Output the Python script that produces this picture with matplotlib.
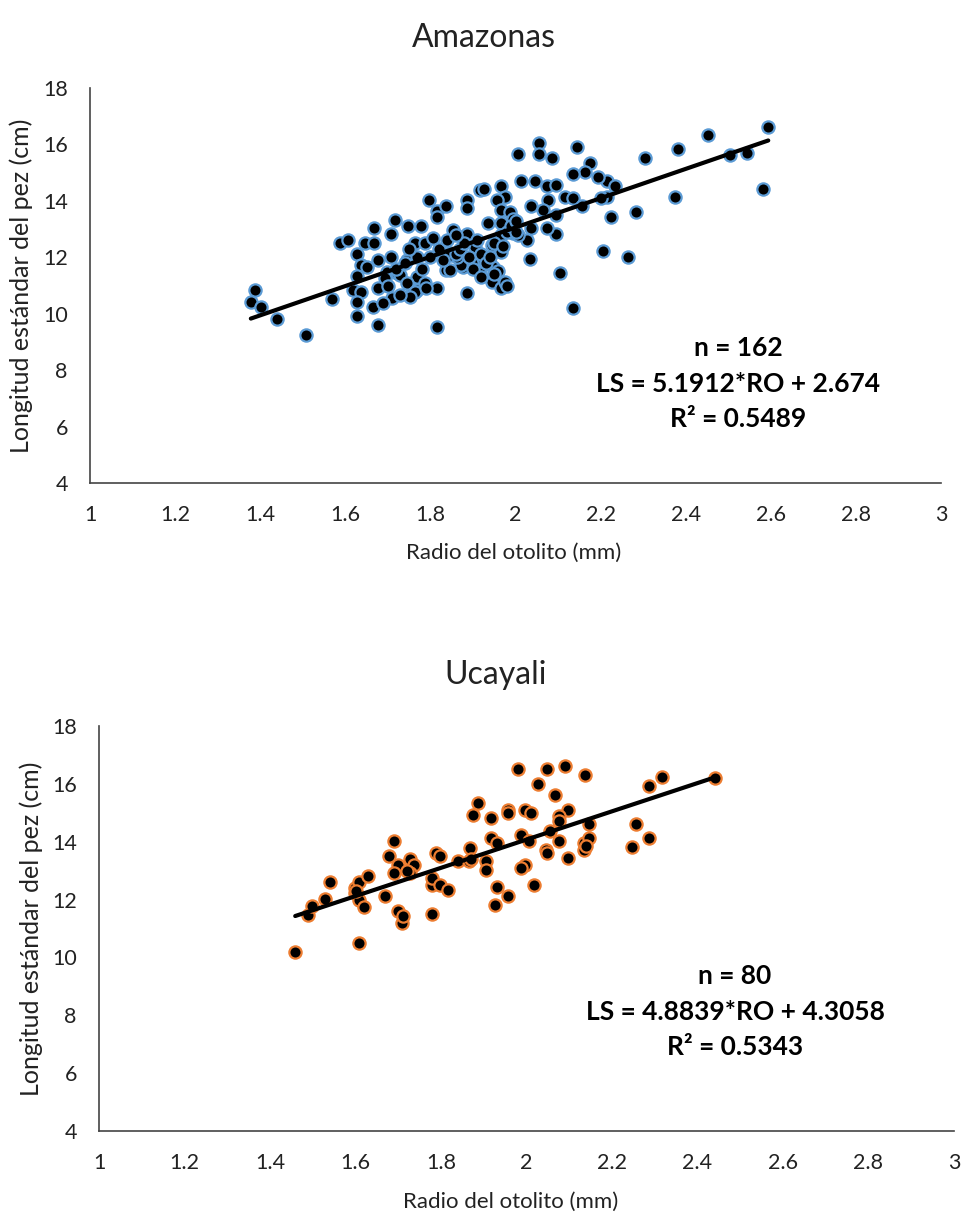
import matplotlib
matplotlib.use('Agg')
import matplotlib.pyplot as plt
import numpy as np

plt.rcParams['font.family'] = ['Lato', 'DejaVu Sans']

# Amazonas: radio del otolito (mm) vs longitud estandar (cm)
amz_x = [1.388, 1.378, 1.401, 1.439, 1.508, 1.568, 1.588, 1.607, 1.627, 1.646,
         1.667, 1.667, 1.638, 1.650, 1.627, 1.619, 1.638, 1.627, 1.627, 1.678,
         1.707, 1.717, 1.748, 1.777, 1.797, 1.816, 1.816, 1.837, 1.707, 1.678,
         1.666, 1.678, 1.697, 1.721, 1.709, 1.689, 1.744, 1.764, 1.787, 1.807,
         1.768, 1.756, 1.768, 1.787, 1.816, 1.816, 1.837, 1.854, 1.885, 1.885,
         1.885, 1.887, 1.895, 1.877, 1.905, 1.917,
         2.594, 2.453, 2.383, 2.304, 2.504, 2.543, 2.582, 2.375, 2.283, 2.224,
         2.214, 2.214, 2.234, 2.195, 2.175, 2.163, 2.202, 2.144, 2.134, 2.116,
         2.136, 2.156, 2.206, 2.265, 2.105, 2.134, 2.055, 2.055, 2.085, 2.005,
         2.014, 2.046, 2.075, 2.095, 2.076, 2.036, 2.065, 2.095, 2.095, 2.075,
         2.036, 2.034, 1.926, 1.965, 1.975, 1.956, 1.965, 1.987, 1.995, 1.936,
         1.965, 1.995, 1.965, 1.944, 1.965, 1.924, 1.948, 1.917, 1.944, 1.965,
         1.975, 2.026, 2.006,
         1.897, 1.873, 1.846, 1.862, 1.846, 1.768, 1.693, 1.729, 1.744, 1.764,
         1.752, 1.729, 1.846,
         1.86, 1.87, 1.88, 1.89, 1.90, 1.91, 1.92, 1.93, 1.94, 1.95,
         1.96, 1.97, 1.98, 1.99, 2.00, 2.00, 1.98, 1.95, 1.92, 1.72,
         1.74, 1.70, 1.75, 1.78, 1.80, 1.82, 1.84, 1.86, 1.83, 1.79]
amz_y = [10.84, 10.43, 10.23, 9.81, 9.25, 10.52, 12.52, 12.61, 12.12, 12.50,
         12.50, 13.03, 11.73, 11.67, 11.35, 10.84, 10.78, 10.43, 9.93, 11.90,
         12.83, 13.32, 13.12, 13.12, 14.03, 13.65, 13.42, 13.83, 12.02, 10.90,
         10.25, 9.60, 11.49, 11.43, 10.55, 10.37, 11.90, 12.50, 12.50, 12.67,
         11.31, 10.72, 10.84, 11.08, 10.90, 9.54, 11.55, 12.97, 14.03, 13.74,
         10.72, 12.83, 11.85, 11.67, 12.38, 14.39,
         16.63, 16.34, 15.83, 15.53, 15.63, 15.71, 14.42, 14.13, 13.62, 13.44,
         14.13, 14.72, 14.51, 14.86, 15.33, 15.04, 14.09, 15.92, 14.94, 14.13,
         14.09, 13.82, 12.23, 12.02, 11.43, 10.21, 16.04, 15.65, 15.53, 15.65,
         14.72, 14.72, 14.53, 14.56, 14.03, 13.82, 13.68, 13.50, 12.83, 13.03,
         13.03, 11.93, 14.41, 14.53, 14.13, 14.03, 13.68, 13.62, 13.35, 13.21,
         13.21, 12.85, 12.79, 12.44, 12.20, 11.90, 11.67, 11.43, 11.14, 10.90,
         11.14, 12.61, 12.79,
         11.79, 11.73, 12.14, 12.02, 11.55, 12.00, 11.26, 11.37, 11.08, 10.78,
         10.60, 10.66, 12.08,
         12.10, 12.30, 12.50, 12.00, 11.60, 12.60, 12.10, 11.80, 12.00, 12.50,
         11.50, 12.40, 12.90, 13.10, 12.90, 13.30, 11.00, 11.40, 11.30, 11.60,
         11.80, 11.00, 12.30, 11.60, 12.00, 12.30, 12.60, 12.80, 11.90, 10.90]

# Ucayali
ucy_x = [1.459, 1.490, 1.499, 1.529, 1.540, 1.598, 1.608, 1.598, 1.608, 1.619,
         1.629, 1.608, 1.668, 1.678, 1.689, 1.699, 1.689, 1.699, 1.709, 1.710,
         1.728, 1.738, 1.728, 1.778, 1.778, 1.798, 1.778, 1.788, 1.798, 1.817,
         1.839, 1.865, 1.868, 1.875, 1.887,
         1.918, 1.957, 1.918, 1.930, 1.906, 1.906, 1.930, 1.927, 1.957,
         1.979, 2.049, 2.089, 2.137, 2.027, 2.067, 1.957, 1.997, 2.010, 2.098,
         2.077, 2.077, 2.147, 2.287, 2.316, 2.257, 2.287, 2.246, 1.988, 2.007,
         2.056, 2.077, 2.046, 2.048, 2.098, 2.135, 2.135, 2.147, 1.997, 1.988,
         2.017, 2.441,
         1.600, 1.870, 2.140, 1.720]
ucy_y = [10.20, 11.47, 11.79, 12.02, 12.61, 12.40, 12.61, 12.22, 11.99, 11.73,
         12.80, 10.49, 12.11, 13.49, 14.01, 13.20, 12.92, 11.62, 11.19, 11.42,
         13.40, 13.20, 12.92, 12.51, 12.74, 12.51, 11.51, 13.61, 13.49, 12.32,
         13.32, 13.32, 13.78, 14.93, 15.34,
         14.82, 15.11, 14.13, 13.96, 13.32, 13.01, 12.45, 11.82, 12.11,
         16.52, 16.52, 16.63, 16.32, 16.01, 15.60, 15.00, 15.11, 14.99, 15.11,
         14.90, 14.70, 14.62, 15.91, 16.24, 14.62, 14.13, 13.82, 14.24, 14.01,
         14.36, 14.01, 13.73, 13.61, 13.44, 13.96, 13.73, 14.13, 13.20, 13.09,
         12.51, 16.21,
         12.30, 13.40, 13.85, 13.00]

amz_fit = (5.1912, 2.674)
ucy_fit = (4.8839, 4.3058)

x_ticks = [1, 1.2, 1.4, 1.6, 1.8, 2, 2.2, 2.4, 2.6, 2.8, 3]
x_ticklabels = ['1', '1.2', '1.4', '1.6', '1.8', '2', '2.2', '2.4', '2.6', '2.8', '3']
y_ticks = [4, 6, 8, 10, 12, 14, 16, 18]

W, H = 961, 1213
fig = plt.figure(figsize=(W / 100, H / 100), dpi=100)


def px_box(left, top, right, bottom):
    return [left / W, 1 - bottom / H, (right - left) / W, (bottom - top) / H]


def panel(box, xs, ys, edge, fit, title, title_xy, ann, ann_xy, ylab_x, xlab_xy):
    ax = fig.add_axes(box)
    ax.scatter(xs, ys, s=78, facecolor='black', edgecolor=edge, linewidth=1.6, zorder=3)
    xx = np.array([min(xs), max(xs)])
    ax.plot(xx, fit[0] * xx + fit[1], color='black', lw=3, solid_capstyle='round', zorder=4)
    ax.set_xlim(1, 3)
    ax.set_ylim(4, 18)
    ax.set_xticks(x_ticks)
    ax.set_xticklabels(x_ticklabels)
    ax.set_yticks(y_ticks)
    for s in ['top', 'right']:
        ax.spines[s].set_visible(False)
    for s in ['left', 'bottom']:
        ax.spines[s].set_color('#444444')
        ax.spines[s].set_linewidth(1.2)
    ax.tick_params(length=0, labelsize=15.5, colors='#222222')
    ax.tick_params(axis='x', pad=16)
    ax.tick_params(axis='y', pad=16)
    ax.set_ylabel('Longitud estándar del pez (cm)', fontsize=18, color='#222222')
    ax.yaxis.set_label_coords(ylab_x, 0.5)
    ax.set_xlabel('Radio del otolito (mm)', fontsize=16, color='#222222')
    ax.xaxis.set_label_coords(*xlab_xy)
    fig.text(title_xy[0] / W, 1 - title_xy[1] / H, title, ha='center', va='center',
             fontsize=23, color='#222222')
    for i, line in enumerate(ann):
        fig.text(ann_xy[0] / W, 1 - (ann_xy[1] + i * 35.5) / H, line, ha='center',
                 va='center', fontsize=19, fontweight='bold', color='black')
    return ax


panel(px_box(90, 88, 941, 483), amz_x, amz_y, '#5B9BD5', amz_fit,
      'Amazonas', (484, 38),
      ['n = 162', 'LS = 5.1912*RO + 2.674', 'R² = 0.5489'], (738, 348),
      -0.067, (0.498, -0.152))

panel(px_box(99, 726, 954, 1131), ucy_x, ucy_y, '#ED7D31', ucy_fit,
      'Ucayali', (496, 675),
      ['n = 80', 'LS = 4.8839*RO + 4.3058', 'R² = 0.5343'], (735, 976),
      -0.066, (0.482, -0.15))

fig.savefig('out.png', dpi=100)
